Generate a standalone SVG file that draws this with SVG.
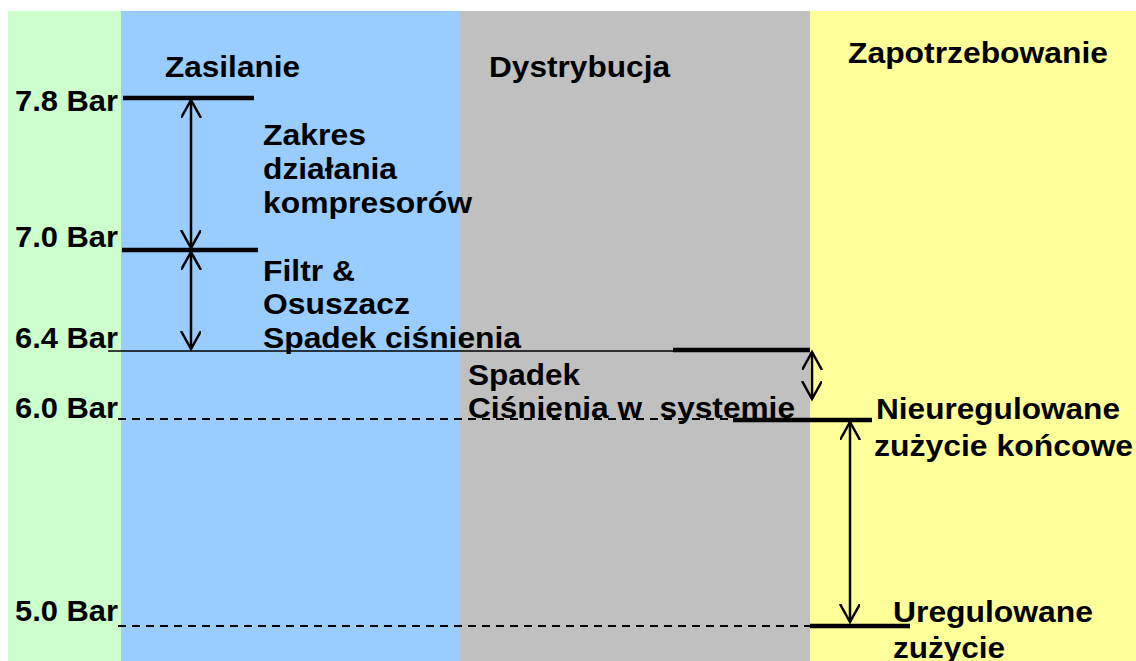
<svg xmlns="http://www.w3.org/2000/svg" width="1136" height="661" viewBox="0 0 1136 661">
<defs>
<style>
text{font-family:"Liberation Sans",Arial,sans-serif;font-weight:bold;font-size:29px;fill:#000}
.thick{stroke:#000;stroke-width:4.5;fill:none}
.thin{stroke:#000;stroke-width:1.5;fill:none}
.dash{stroke:#000;stroke-width:2;stroke-dasharray:8,6;fill:none}
.arr{stroke:#000;stroke-width:2.5;fill:none}
</style>
<marker id="ah" markerUnits="userSpaceOnUse" markerWidth="24" markerHeight="24" refX="18" refY="10" orient="auto-start-reverse" viewBox="0 0 24 24">
<path d="M0,0 L18,10 L0,20" stroke="#000" stroke-width="2.5" fill="none"/>
</marker>
</defs>
<rect width="1136" height="661" fill="#fff"/>
<g id="bands">
<rect x="8" y="11" width="113" height="650" fill="#CCFFCC"/>
<rect x="121" y="11" width="339" height="650" fill="#99CCFF"/>
<rect x="460" y="11" width="350" height="650" fill="#C0C0C0"/>
<rect x="810" y="11" width="326" height="650" fill="#FFFF99"/>
</g>
<g id="headers">
<text x="165" y="77" textLength="135" lengthAdjust="spacingAndGlyphs">Zasilanie</text>
<text x="489" y="77" textLength="181" lengthAdjust="spacingAndGlyphs">Dystrybucja</text>
<text x="848" y="63" textLength="260" lengthAdjust="spacingAndGlyphs">Zapotrzebowanie</text>
</g>
<g id="levels">
<text x="15" y="111" textLength="103" lengthAdjust="spacingAndGlyphs">7.8 Bar</text>
<text x="15" y="247" textLength="103" lengthAdjust="spacingAndGlyphs">7.0 Bar</text>
<text x="15" y="348" textLength="103" lengthAdjust="spacingAndGlyphs">6.4 Bar</text>
<text x="15" y="418" textLength="103" lengthAdjust="spacingAndGlyphs">6.0 Bar</text>
<text x="15" y="621" textLength="103" lengthAdjust="spacingAndGlyphs">5.0 Bar</text>
</g>
<g id="connectors">
<line class="thick" x1="123" y1="98" x2="254" y2="98"/>
<line class="thick" x1="122" y1="250" x2="258" y2="250"/>
<line class="thin" x1="108" y1="351" x2="810" y2="351"/>
<line class="thick" x1="673" y1="350" x2="810" y2="350"/>
<line class="dash" x1="118" y1="419" x2="733" y2="419"/>
<line class="thick" x1="733" y1="420" x2="872" y2="420"/>
<line class="dash" x1="118" y1="626" x2="810" y2="626"/>
<line class="thick" x1="810" y1="626" x2="910" y2="626"/>
<line class="arr" x1="191" y1="100" x2="191" y2="248" marker-start="url(#ah)" marker-end="url(#ah)"/>
<line class="arr" x1="191" y1="252" x2="191" y2="349" marker-start="url(#ah)" marker-end="url(#ah)"/>
<line class="arr" x1="812" y1="352" x2="812" y2="399" marker-start="url(#ah)" marker-end="url(#ah)"/>
<line class="arr" x1="850" y1="422" x2="850" y2="622" marker-start="url(#ah)" marker-end="url(#ah)"/>
</g>
<g id="zakres">
<text x="263" y="145" textLength="103" lengthAdjust="spacingAndGlyphs">Zakres</text>
<text x="263" y="179" textLength="134" lengthAdjust="spacingAndGlyphs">działania</text>
<text x="263" y="213" textLength="209" lengthAdjust="spacingAndGlyphs">kompresorów</text>
</g>
<g id="filtr">
<text x="263" y="281" textLength="92" lengthAdjust="spacingAndGlyphs">Filtr &amp;</text>
<text x="263" y="314" textLength="147" lengthAdjust="spacingAndGlyphs">Osuszacz</text>
<text x="263" y="348" textLength="258" lengthAdjust="spacingAndGlyphs">Spadek ciśnienia</text>
</g>
<g id="spadek-systemie">
<text x="468" y="385" textLength="112" lengthAdjust="spacingAndGlyphs">Spadek</text>
<text x="468" y="418" textLength="327" lengthAdjust="spacingAndGlyphs" xml:space="preserve">Ciśnienia w  systemie</text>
</g>
<g id="nieuregulowane">
<text x="876" y="419" textLength="244" lengthAdjust="spacingAndGlyphs">Nieuregulowane</text>
<text x="874" y="456" textLength="259" lengthAdjust="spacingAndGlyphs">zużycie końcowe</text>
</g>
<g id="uregulowane">
<text x="893" y="622" textLength="200" lengthAdjust="spacingAndGlyphs">Uregulowane</text>
<text x="893" y="658" textLength="112" lengthAdjust="spacingAndGlyphs">zużycie</text>
</g>
</svg>
